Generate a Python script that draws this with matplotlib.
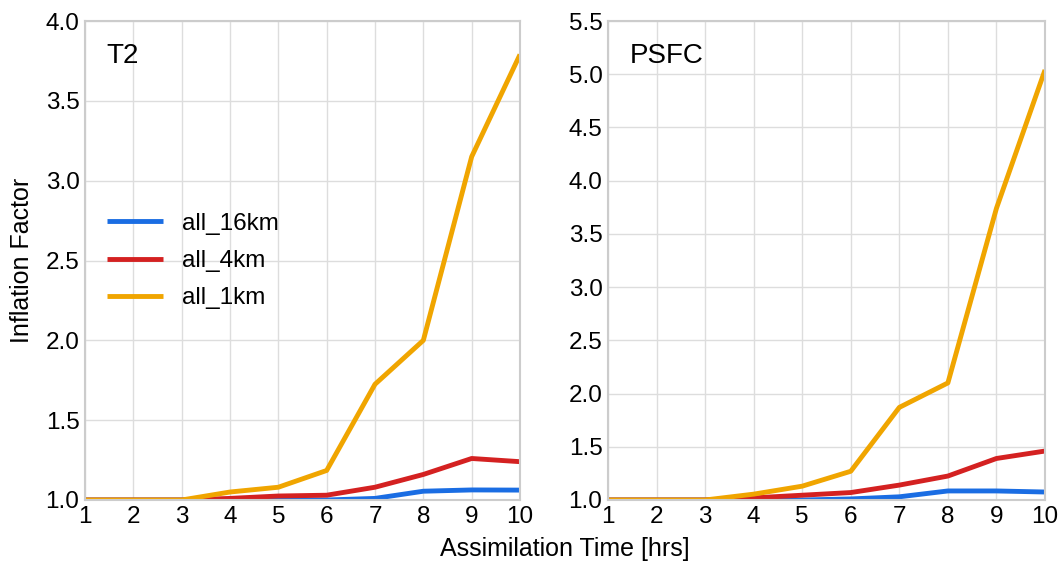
import matplotlib
matplotlib.use("Agg")
import matplotlib.pyplot as plt
import numpy as np

hours = [1, 2, 3, 4, 5, 6, 7, 8, 9, 10]
series_names = ["all_16km", "all_4km", "all_1km"]
colors = ["#1a6de3", "#d42121", "#f0a500"]

t2_16km = [1.0, 1.0, 1.0, 1.0, 1.0, 1.0, 1.01, 1.055, 1.063, 1.062]
t2_4km = [1.0, 1.0, 1.0, 1.01, 1.025, 1.03, 1.08, 1.16, 1.26, 1.24]
t2_1km = [1.0, 1.0, 1.0, 1.05, 1.08, 1.185, 1.725, 2.0, 3.15, 3.79]

psfc_16km = [1.0, 1.0, 1.0, 1.0, 1.0, 1.01, 1.03, 1.085, 1.085, 1.075]
psfc_4km = [1.0, 1.0, 1.0, 1.02, 1.045, 1.07, 1.14, 1.225, 1.39, 1.46]
psfc_1km = [1.0, 1.0, 1.0, 1.055, 1.13, 1.27, 1.87, 2.10, 3.74, 5.04]

plt.rcParams['font.family'] = ['Liberation Sans', 'DejaVu Sans']
fig = plt.figure(figsize=(10.62, 5.62), dpi=100)
ax1 = fig.add_axes([85/1062, 1-500/562, 435/1062, 479/562])
ax2 = fig.add_axes([608/1062, 1-500/562, 437/1062, 479/562])

panels = [
    (ax1, "T2", [t2_16km, t2_4km, t2_1km], 4.0),
    (ax2, "PSFC", [psfc_16km, psfc_4km, psfc_1km], 5.5),
]
for ax, title, data, ymax in panels:
    for name, vals, c in zip(series_names, data, colors):
        ax.plot(hours, vals, color=c, lw=3.5, label=name, solid_capstyle='butt')
    ax.set_xlim(1, 10)
    ax.set_ylim(1.0, ymax)
    ax.set_xticks(hours)
    yt = np.arange(1.0, ymax + 0.01, 0.5)
    ax.set_yticks(yt)
    ax.set_yticklabels([f"{v:.1f}" for v in yt])
    ax.grid(True, color="#dddddd", lw=1)
    ax.set_axisbelow(True)
    for s in ax.spines.values():
        s.set_color("#cccccc")
        s.set_linewidth(1.5)
    ax.tick_params(length=0, labelsize=17.5, pad=4, colors="black")
    ax.text(0.05, 0.955, title, transform=ax.transAxes, fontsize=20, va="top", ha="left")

ax1.set_ylabel("Inflation Factor", fontsize=18, labelpad=8)
fig.text((85 + 1045) / 2 / 1062, 1 - 549/562, "Assimilation Time [hrs]", fontsize=18, ha="center", va="center")
ax1.legend(loc="upper left", bbox_to_anchor=(0.0, 0.645), frameon=False, fontsize=17.5,
           handlelength=2.3, handletextpad=0.8, labelspacing=0.62)

fig.savefig("out.png", dpi=100)
